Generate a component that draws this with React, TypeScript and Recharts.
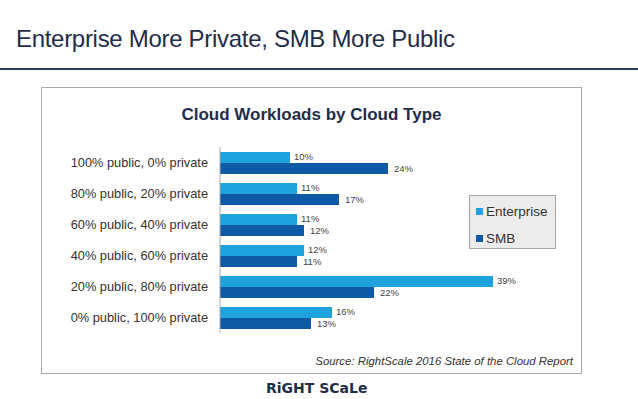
import { BarChart, Bar, XAxis, YAxis, LabelList } from 'recharts'

const categories = [
  '100% public, 0% private',
  '80% public, 20% private',
  '60% public, 40% private',
  '40% public, 60% private',
  '20% public, 80% private',
  '0% public, 100% private',
]
const enterprise = [10, 11, 11, 12, 39, 16]
const smb = [24, 17, 12, 11, 22, 13]

const ENT_COLOR = '#1ea3dd'
const SMB_COLOR = '#0e5aa5'
const NAVY = '#1f2d4a'
const FONT = '"Liberation Sans", Arial, Helvetica, sans-serif'

const data = categories.map((name, i) => ({
  name,
  enterprise: enterprise[i],
  smb: smb[i],
}))

function makeLabel(dy: number, dx: number) {
  return (props: any) => {
    const { x, y, width, height, value } = props
    return (
      <text
        x={Number(x) + Number(width) + dx}
        y={Number(y) + Number(height) / 2 + dy}
        fontSize={9.5}
        fill="#444"
        fontFamily={FONT}
        dominantBaseline="middle"
      >
        {value}%
      </text>
    )
  }
}

function LegendBox() {
  const items = [
    { label: 'Enterprise', color: ENT_COLOR },
    { label: 'SMB', color: SMB_COLOR },
  ]
  return (
    <div
      style={{
        position: 'absolute',
        left: 469,
        top: 195,
        width: 87,
        height: 54,
        background: '#ececec',
        border: '1px solid #a8a8a8',
        boxSizing: 'border-box',
        padding: '5px 0 0 6px',
        fontFamily: FONT,
        fontSize: 13.5,
        color: '#333',
      }}
    >
      {items.map((it) => (
        <div key={it.label} style={{ display: 'flex', alignItems: 'center', height: 20, marginBottom: 7 }}>
          <span style={{ width: 7, height: 7, background: it.color, marginRight: 3, display: 'inline-block' }} />
          {it.label}
        </div>
      ))}
    </div>
  )
}

export default function App() {
  return (
    <div style={{ position: 'absolute', left: 0, top: 0, width: 638, height: 399, background: '#fff', fontFamily: FONT }}>
      <div style={{ position: 'absolute', left: 16, top: 25, fontSize: 24, letterSpacing: -0.3, color: NAVY, whiteSpace: 'nowrap' }}>
        Enterprise More Private, SMB More Public
      </div>
      <div style={{ position: 'absolute', left: 0, top: 68, width: 638, height: 2, background: '#2b3a55' }} />

      <div
        style={{
          position: 'absolute',
          left: 41,
          top: 87,
          width: 541,
          height: 287,
          border: '1px solid #aaa',
          boxSizing: 'border-box',
        }}
      />
      <div
        style={{
          position: 'absolute',
          left: 41,
          top: 105,
          width: 541,
          textAlign: 'center',
          fontSize: 17,
          fontWeight: 'bold',
          color: NAVY,
        }}
      >
        Cloud Workloads by Cloud Type
      </div>

      <div style={{ position: 'absolute', left: 41, top: 88 }}>
        <BarChart
          width={540}
          height={285}
          data={data}
          layout="vertical"
          margin={{ top: 59, right: 11, bottom: 40, left: 0 }}
          barGap={0}
        >
          <XAxis type="number" domain={[0, 50]} hide />
          <YAxis
            type="category"
            dataKey="name"
            width={179}
            tickLine={false}
            tickMargin={6}
            axisLine={{ stroke: '#aaa' }}
            tick={{ fontSize: 12.8, fill: '#333', fontFamily: FONT }}
          />
          <Bar dataKey="enterprise" name="Enterprise" fill={ENT_COLOR} barSize={11} isAnimationActive={false}>
            <LabelList dataKey="enterprise" content={makeLabel(0, 4)} />
          </Bar>
          <Bar dataKey="smb" name="SMB" fill={SMB_COLOR} barSize={11} isAnimationActive={false}>
            <LabelList dataKey="smb" content={makeLabel(1, 6)} />
          </Bar>
        </BarChart>
      </div>
      <LegendBox />

      <div
        style={{
          position: 'absolute',
          right: 65,
          top: 355,
          fontSize: 11.4,
          fontStyle: 'italic',
          color: '#333',
        }}
      >
        Source: RightScale 2016 State of the Cloud Report
      </div>

      <div
        style={{
          position: 'absolute',
          left: 266,
          top: 380,
          fontSize: 14,
          fontWeight: 900,
          color: NAVY,
          fontFamily: '"DejaVu Sans", sans-serif',
        }}
      >
        RiGHT SCaLe
      </div>
    </div>
  )
}
